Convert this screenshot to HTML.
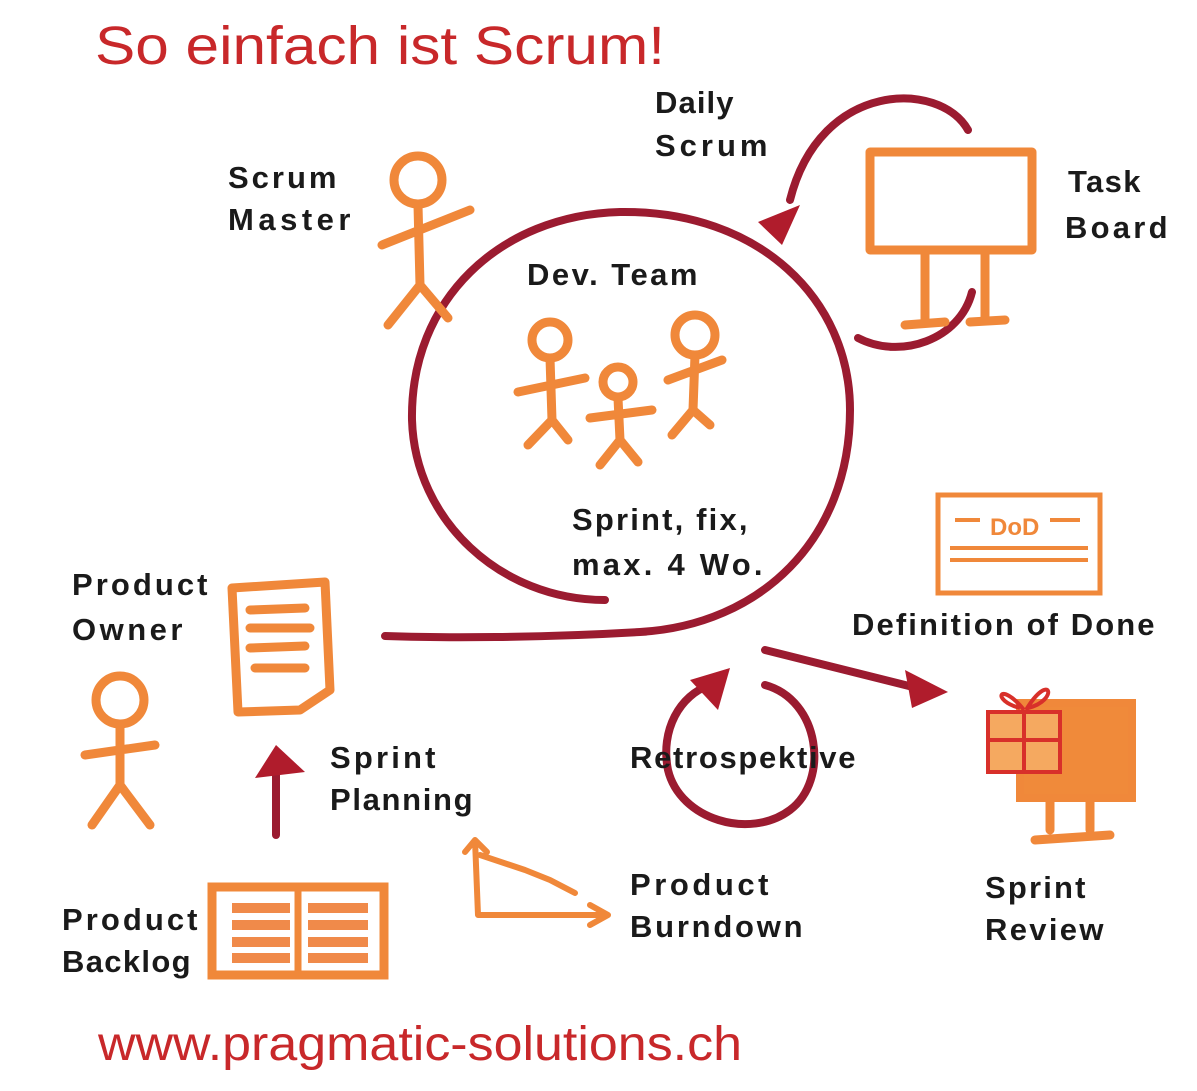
<!DOCTYPE html>
<html><head><meta charset="utf-8"><style>
body{margin:0;background:#fff;}
svg{display:block}
text{font-family:"Liberation Sans",sans-serif;}
.lbl{font-size:31px;fill:#1a1a1a;font-weight:bold;letter-spacing:-0.5px}
.o{stroke:#f0883a;fill:none;stroke-width:9;stroke-linecap:round;stroke-linejoin:round}
.r{stroke:#9b1b30;fill:none;stroke-width:8;stroke-linecap:round}
</style></head><body>
<svg width="1197" height="1091" viewBox="0 0 1197 1091">
<text x="95" y="64" font-size="54" fill="#c8282a" textLength="570" lengthAdjust="spacingAndGlyphs">So einfach ist Scrum!</text>
<text x="98" y="1060" font-size="48" fill="#c8282a" textLength="644" lengthAdjust="spacingAndGlyphs">www.pragmatic-solutions.ch</text>

<g>
<path class="r" d="M605,600 C500,600 415,520 412,420 C410,300 500,215 620,212 C760,210 850,300 850,410 C850,540 760,625 640,632 C540,638 440,638 385,636"/>
</g>
<path class="r" d="M765,650 L925,690"/>
<polygon fill="#b01c2c" points="905,670 948,692 912,708"/>

<path class="r" d="M968,130 C940,80 820,80 790,200"/>
<polygon fill="#b01c2c" points="758,222 800,205 782,245"/>
<path class="r" d="M972,292 C960,340 900,360 858,338"/>

<g class="o">
<rect x="870" y="152" width="162" height="98"/>
<line x1="925" y1="250" x2="925" y2="320"/><line x1="985" y1="250" x2="985" y2="320"/>
<line x1="905" y1="325" x2="945" y2="322"/><line x1="970" y1="322" x2="1005" y2="320"/>
</g>

<g class="o">
<circle cx="418" cy="180" r="24"/><path d="M418,205 L420,285 M382,245 L470,210 M420,285 L388,325 M420,285 L448,318"/>
</g>
<g class="o">
<circle cx="550" cy="340" r="18"/><path d="M550,358 L552,420 M518,392 L585,378 M552,420 L528,445 M552,420 L568,440"/>
<circle cx="618" cy="382" r="15"/><path d="M618,398 L620,440 M590,418 L652,410 M620,440 L600,465 M620,440 L638,462"/>
<circle cx="695" cy="335" r="20"/><path d="M695,355 L693,410 M668,380 L722,360 M693,410 L672,435 M693,410 L710,425"/>
</g>
<g class="o">
<circle cx="120" cy="700" r="24"/><path d="M120,725 L120,785 M85,755 L155,745 M120,785 L92,825 M120,785 L150,825"/>
</g>
<g class="o">
<path d="M232,588 L325,582 L330,690 L300,710 L238,712 Z M250,610 L305,608 M250,628 L310,628 M250,648 L305,646 M255,668 L305,668"/>
</g>
<line class="r" x1="276" y1="835" x2="276" y2="770"/>
<polygon fill="#b01c2c" points="255,778 276,745 305,772"/>
<g>
<rect x="212" y="887" width="172" height="88" fill="none" stroke="#f0883a" stroke-width="9"/>
<line x1="298" y1="887" x2="298" y2="975" stroke="#f0883a" stroke-width="7"/>
<g stroke="#f08a4a" stroke-width="10"><line x1="232" y1="908" x2="290" y2="908"/><line x1="232" y1="925" x2="290" y2="925"/><line x1="232" y1="942" x2="290" y2="942"/><line x1="232" y1="958" x2="290" y2="958"/>
<line x1="308" y1="908" x2="368" y2="908"/><line x1="308" y1="925" x2="368" y2="925"/><line x1="308" y1="942" x2="368" y2="942"/><line x1="308" y1="958" x2="368" y2="958"/></g>
</g>
<g class="o" style="stroke-width:6">
<path d="M475,840 L478,915 L605,915 M590,905 L608,915 L590,925 M465,852 L475,840 L487,852 M480,855 L525,870 L550,880 L575,893"/>
</g>
<path class="r" d="M765,685 C820,700 830,780 790,810 C750,840 680,820 668,770 C660,730 680,695 710,685"/>
<polygon fill="#b01c2c" points="690,680 730,668 718,710"/>
<g>
<rect x="938" y="495" width="162" height="98" fill="none" stroke="#f0883a" stroke-width="5"/>
<text x="990" y="535" font-size="24" fill="#f0883a" font-weight="bold">DoD</text>
<line x1="955" y1="520" x2="980" y2="520" stroke="#f0883a" stroke-width="4"/><line x1="1050" y1="520" x2="1080" y2="520" stroke="#f0883a" stroke-width="4"/>
<line x1="950" y1="548" x2="1088" y2="548" stroke="#f0883a" stroke-width="4"/><line x1="950" y1="560" x2="1088" y2="560" stroke="#f0883a" stroke-width="4"/>
</g>
<g>
<rect x="1020" y="703" width="112" height="95" fill="#f08a3a" stroke="#f0883a" stroke-width="8"/>
<rect x="988" y="712" width="72" height="60" fill="#f5a960" stroke="#d8302a" stroke-width="4"/>
<line x1="1024" y1="712" x2="1024" y2="772" stroke="#d8302a" stroke-width="4"/><line x1="988" y1="740" x2="1060" y2="740" stroke="#d8302a" stroke-width="4"/>
<path d="M1024,710 C1000,680 990,700 1020,708 M1026,710 C1050,670 1060,700 1028,708" stroke="#d8302a" stroke-width="4" fill="none"/>
<path class="o" d="M1050,800 L1050,830 M1090,800 L1090,830 M1035,840 L1110,835"/>
</g>

<text class="lbl" x="655" y="113" textLength="78">Daily</text>
<text class="lbl" x="655" y="156" textLength="112">Scrum</text>
<text class="lbl" x="1068" y="192" textLength="72">Task</text>
<text class="lbl" x="1065" y="238" textLength="102">Board</text>
<text class="lbl" x="228" y="188" textLength="108">Scrum</text>
<text class="lbl" x="228" y="230" textLength="122">Master</text>
<text class="lbl" x="527" y="285" textLength="170">Dev. Team</text>
<text class="lbl" x="572" y="530" textLength="175">Sprint, fix,</text>
<text class="lbl" x="572" y="575" textLength="190">max. 4 Wo.</text>
<text class="lbl" x="72" y="595" textLength="135">Product</text>
<text class="lbl" x="72" y="640" textLength="110">Owner</text>
<text class="lbl" x="852" y="635" textLength="302">Definition of Done</text>
<text class="lbl" x="330" y="768" textLength="105">Sprint</text>
<text class="lbl" x="330" y="810" textLength="142">Planning</text>
<text class="lbl" x="630" y="768" textLength="225">Retrospektive</text>
<text class="lbl" x="630" y="895" textLength="138">Product</text>
<text class="lbl" x="630" y="937" textLength="172">Burndown</text>
<text class="lbl" x="985" y="898" textLength="100">Sprint</text>
<text class="lbl" x="985" y="940" textLength="118">Review</text>
<text class="lbl" x="62" y="930" textLength="135">Product</text>
<text class="lbl" x="62" y="972" textLength="128">Backlog</text>
</svg>
</body></html>
